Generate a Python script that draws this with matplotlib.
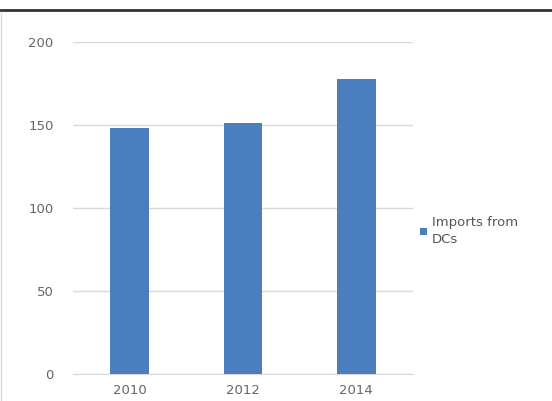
import matplotlib
matplotlib.use("Agg")
import matplotlib.pyplot as plt
from matplotlib.lines import Line2D

plt.rcParams["font.family"] = ["DejaVu Sans"]

years = ["2010", "2012", "2014"]
imports_from_dcs = [148, 151, 178]
y_ticks = [0, 50, 100, 150, 200]
series_name = "Imports from\nDCs"

fig = plt.figure(figsize=(5.52, 4.01), dpi=100)
ax = fig.add_axes([73/552, 27/401, 340/552, 332/401])

x = list(range(len(years)))
ax.bar(x, imports_from_dcs, width=0.34, color="#4a7ebf", zorder=3, label=series_name)
ax.set_xlim(-0.5, len(years) - 0.5)
ax.set_ylim(0, 200)
ax.set_yticks(y_ticks)
ax.set_xticks(x)
ax.set_xticklabels(years)
ax.grid(axis="y", color="#d9d9d9", linewidth=1, zorder=0)
for s in ["top", "right", "left"]:
    ax.spines[s].set_visible(False)
ax.spines["bottom"].set_color("#d9d9d9")
ax.tick_params(axis="both", length=0, labelsize=9.5, colors="#666666", pad=7)
ax.tick_params(axis="y", pad=14)

leg = ax.legend(loc="center left", bbox_to_anchor=(1.005, 0.43), frameon=False,
                fontsize=9.5, labelcolor="#555555", handlelength=0.5, handleheight=0.5,
                handletextpad=0.4, borderaxespad=0, labelspacing=0.2)
for t in leg.get_texts():
    t.set_linespacing(1.35)

# top rule and left border
fig.add_artist(Line2D([0, 1], [1 - 10/401, 1 - 10/401], color="#333333", linewidth=2))
fig.add_artist(Line2D([1/552, 1/552], [0, 1 - 12/401], color="#dddddd", linewidth=1))

fig.savefig("out.png", dpi=100)
